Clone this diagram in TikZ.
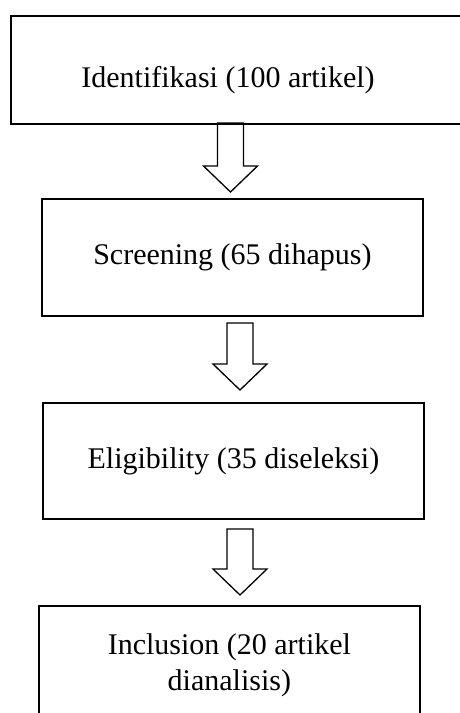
\documentclass[tikz,border=0pt]{standalone}
\usepackage{fontspec}
\setmainfont{Liberation Serif}
\usetikzlibrary{calc}
\tikzset{
  stage/.style={draw, line width=1.8pt, inner sep=0pt, align=center,
    font=\fontsize{30}{36}\selectfont},
  fatarrow/.style={line width=1.3pt, line join=miter,
    to path={let \p1=(\tikztostart), \p2=(\tikztotarget) in
      (\x1-13pt,\y1) -- (\x1-13pt,\y2+26pt) -- (\x1-27pt,\y2+26pt) -- (\x2,\y2)
      -- (\x1+27pt,\y2+26pt) -- (\x1+13pt,\y2+26pt) -- (\x1+13pt,\y1) -- cycle}}
}
\begin{document}
\begin{tikzpicture}[x=1pt,y=-1pt]
  \useasboundingbox (0,0) rectangle (460,713);
  \clip (0,0) rectangle (460,713);
  % stage boxes
  \node[stage, minimum width=470pt, minimum height=108pt, anchor=north west] (ident) at (10,15) {};
  \node[stage, draw=none] (identtext) at (228,80) {Identifikasi (100 artikel)};
  \node[stage, minimum width=381pt, minimum height=117pt, anchor=north west] (screen) at (41,198) {Screening (65 dihapus)};
  \node[stage, minimum width=381pt, minimum height=116pt, anchor=north west] (elig) at (42,402) {Eligibility (35 diseleksi)};
  \node[stage, minimum width=381pt, minimum height=118pt, anchor=north west] (incl) at (38,605) {Inclusion (20 artikel\\dianalisis)};
  % arrow ends
  \coordinate (a1) at (230.5,123); \coordinate (b1) at (230.5,192);
  \coordinate (a2) at (240,323);   \coordinate (b2) at (240,390);
  \coordinate (a3) at (240,529);   \coordinate (b3) at (240,595);
  % hollow block arrows
  \draw[fatarrow] (a1) to (b1);
  \draw[fatarrow] (a2) to (b2);
  \draw[fatarrow] (a3) to (b3);
\end{tikzpicture}
\end{document}
